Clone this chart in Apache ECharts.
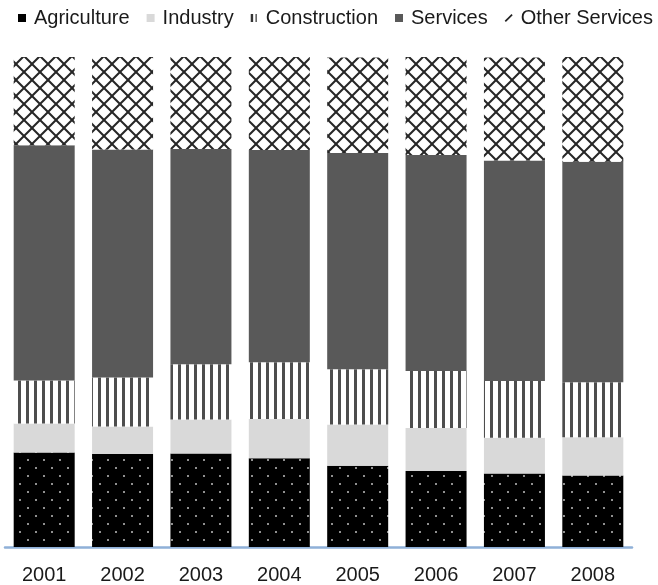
<!DOCTYPE html>
<html>
<head>
<meta charset="utf-8">
<script src="https://cdn.jsdelivr.net/npm/echarts@6/dist/echarts.min.js"></script>
<style>
  html, body { margin: 0; padding: 0; background: #fff; }
  #chart { width: 658px; height: 585px; }
</style>
</head>
<body>
<div id="chart"></div>
<script>
// Employment share by sector, percent of total
const years = ['2001', '2002', '2003', '2004', '2005', '2006', '2007', '2008'];
const agriculture   = [19.3, 19.0, 19.1, 18.1, 16.6, 15.5, 15.0, 14.6];
const industry      = [5.9, 5.6, 6.9, 8.0, 8.4, 8.8, 7.3, 7.8];
const construction  = [8.8, 10.0, 11.3, 11.6, 11.3, 11.6, 11.6, 11.2];
const services      = [48.0, 46.5, 43.9, 43.3, 44.1, 44.1, 45.0, 45.0];
const otherServices = [18.0, 19.0, 18.8, 19.0, 19.5, 20.0, 21.0, 21.4];

// Fill patterns built on small canvases
function tile(w, h, draw) {
  const c = document.createElement('canvas');
  c.width = w; c.height = h;
  draw(c.getContext('2d'));
  return { image: c, repeat: 'repeat' };
}

const dotted = tile(16, 16, ctx => {
  ctx.fillStyle = '#000';
  ctx.fillRect(0, 0, 16, 16);
  ctx.fillStyle = '#c0c0c0';
  ctx.beginPath(); ctx.arc(4, 4, 1, 0, Math.PI * 2); ctx.fill();
  ctx.beginPath(); ctx.arc(12, 12, 1, 0, Math.PI * 2); ctx.fill();
});

const vertical = tile(8, 4, ctx => {
  ctx.fillStyle = '#fff';
  ctx.fillRect(0, 0, 8, 4);
  ctx.fillStyle = '#4d4d4d';
  ctx.fillRect(2, 0, 3, 4);
});

const lattice = tile(16, 16, ctx => {
  ctx.fillStyle = '#fff';
  ctx.fillRect(0, 0, 16, 16);
  ctx.strokeStyle = '#262626';
  ctx.lineWidth = 2;
  for (const o of [-16, 0, 16]) {
    ctx.beginPath(); ctx.moveTo(o - 2, -2); ctx.lineTo(o + 18, 18); ctx.stroke();
    ctx.beginPath(); ctx.moveTo(o + 18, -2); ctx.lineTo(o - 2, 18); ctx.stroke();
  }
});

const fontFamily = '"Liberation Sans", Arial, sans-serif';

function bar(name, data, color) {
  return {
    name, type: 'bar', stack: 'total', data,
    barWidth: 61,
    itemStyle: { color },
    emphasis: { disabled: true }
  };
}

const chart = echarts.init(document.getElementById('chart'), null, { renderer: 'canvas' });
chart.setOption({
  animation: false,
  legend: {
    left: 18, top: 8, padding: 0,
    itemWidth: 8, itemHeight: 8, itemGap: 17,
    textStyle: { fontFamily, fontSize: 20, color: '#1a1a1a', padding: [0, 0, 0, 3] },
    data: [
      { name: 'Agriculture', icon: 'rect', itemStyle: { color: '#000' } },
      { name: 'Industry', icon: 'rect', itemStyle: { color: '#d9d9d9' } },
      { name: 'Construction', icon: 'path://M0,0h3v10h-3z M6,0h1.5v10h-1.5z', itemStyle: { color: '#333' } },
      { name: 'Services', icon: 'rect', itemStyle: { color: '#595959' } },
      { name: 'Other Services', icon: 'path://M0,8.5 L8.5,0 L10,1.5 L1.5,10 Z', itemStyle: { color: '#222' } }
    ]
  },
  grid: { left: 5, right: 26, top: 57, bottom: 38 },
  xAxis: {
    type: 'category',
    data: years,
    axisLine: { lineStyle: { color: '#8fb0d8', width: 2.5 } },
    axisTick: { show: false },
    axisLabel: { fontFamily, fontSize: 20, color: '#1a1a1a', margin: 18 }
  },
  yAxis: { type: 'value', min: 0, max: 100, show: false },
  series: [
    bar('Agriculture', agriculture, dotted),
    bar('Industry', industry, '#d9d9d9'),
    bar('Construction', construction, vertical),
    bar('Services', services, '#595959'),
    bar('Other Services', otherServices, lattice)
  ]
});
</script>
</body>
</html>
